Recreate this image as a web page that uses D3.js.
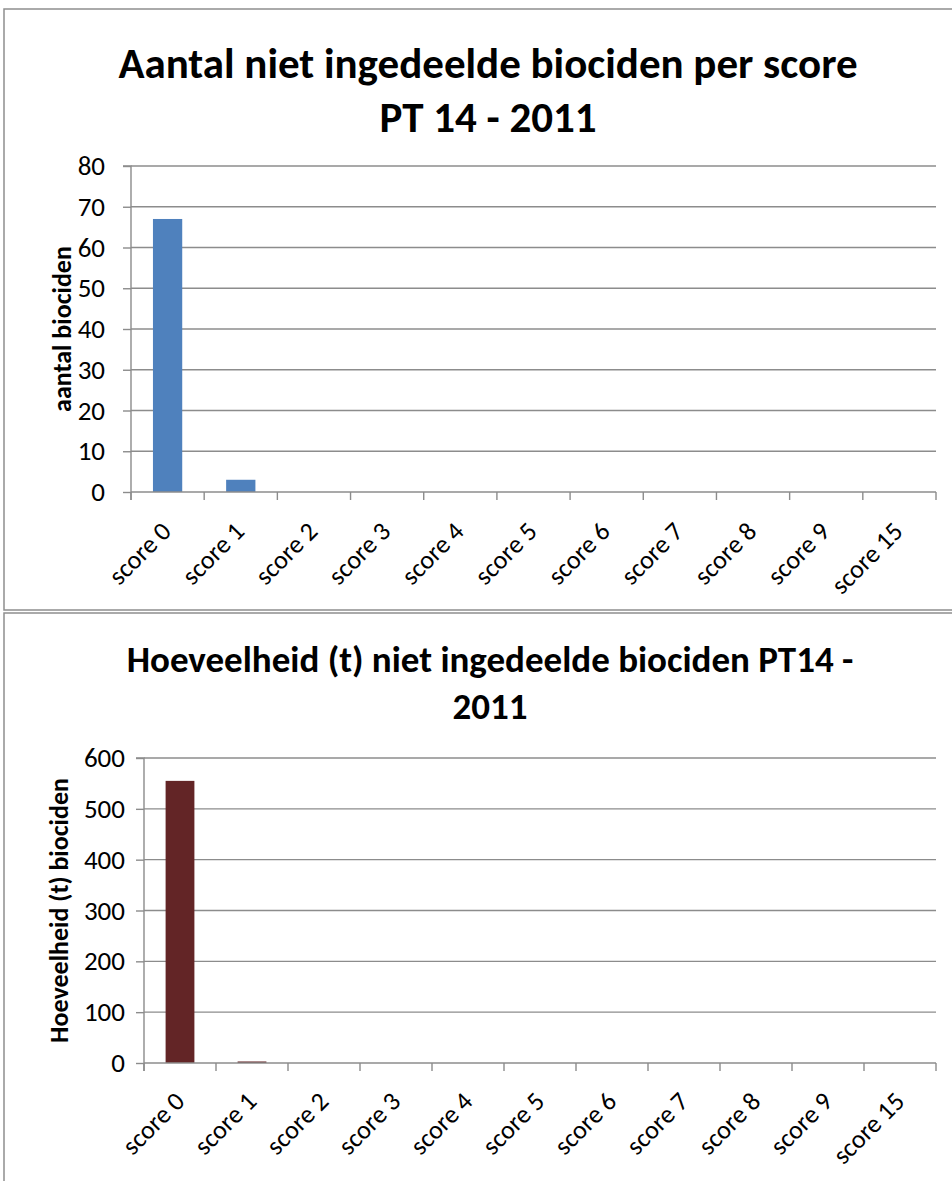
<!DOCTYPE html>
<html>
<head>
<meta charset="utf-8">
<script src="https://cdnjs.cloudflare.com/ajax/libs/d3/7.8.5/d3.min.js"></script>
<style>
  html, body { margin: 0; padding: 0; background: #ffffff; }
  svg { display: block; }
  text { font-family: "Carlito", "Liberation Sans Narrow", "DejaVu Sans Condensed", "Open Sans", sans-serif; fill: #000; }
</style>
</head>
<body>
<svg id="chart" width="952" height="1181"></svg>
<script>
// ---- data ----
const categories = ["score 0", "score 1", "score 2", "score 3", "score 4", "score 5", "score 6", "score 7", "score 8", "score 9", "score 15"];
const countValues = [67, 3, 0, 0, 0, 0, 0, 0, 0, 0, 0];
const tonValues = [555, 3, 0, 0, 0, 0, 0, 0, 0, 0, 0];
const countTicks = [0, 10, 20, 30, 40, 50, 60, 70, 80];
const tonTicks = [0, 100, 200, 300, 400, 500, 600];
const countTitle = ["Aantal niet ingedeelde biociden per score", "PT 14 - 2011"];
const tonTitle = ["Hoeveelheid (t) niet ingedeelde biociden PT14 -", "2011"];
const countAxisTitle = "aantal biociden";
const tonAxisTitle = "Hoeveelheid (t) biociden";

const svg = d3.select("#chart");
const GRID = "#8c8c8c";

function drawChart(cfg) {
  const g = svg.append("g");
  // frame
  g.append("path")
    .attr("d", `M${cfg.frame.x1},${cfg.frame.y0} H${cfg.frame.x0} V${cfg.frame.y1}` + (cfg.frame.closeBottom ? ` H${cfg.frame.x1}` : ""))
    .attr("fill", "none").attr("stroke", "#8f8f8f").attr("stroke-width", 1.5);

  // title
  cfg.title.forEach((t, i) => {
    g.append("text").attr("x", cfg.titleX).attr("y", cfg.titleY[i])
      .attr("text-anchor", "middle").attr("font-weight", "bold")
      .attr("font-size", cfg.titleSize).text(t);
  });

  const x = d3.scaleBand().domain(categories)
    .range([cfg.plot.x0, cfg.plot.x1]).paddingInner(0.6).paddingOuter(0.3);
  const y = d3.scaleLinear().domain([0, d3.max(cfg.ticks)]).range([cfg.plot.y1, cfg.plot.y0]);

  // gridlines
  g.append("g").selectAll("line").data(cfg.ticks.filter(d => d !== 0)).join("line")
    .attr("x1", cfg.plot.x0).attr("x2", cfg.plot.x1)
    .attr("y1", d => y(d)).attr("y2", d => y(d))
    .attr("stroke", GRID).attr("stroke-width", 1.4);

  // y axis
  const yAxis = d3.axisLeft(y).tickValues(cfg.ticks).tickSize(8).tickPadding(cfg.yLabelPad).tickFormat(d3.format("d"));
  const ya = g.append("g").attr("transform", `translate(${cfg.plot.x0},0)`).call(yAxis);
  ya.attr("font-family", null).attr("font-size", null);
  ya.select(".domain").attr("d", `M-8,${cfg.plot.y0}H0V${cfg.plot.y1 + 8}`).attr("stroke", GRID).attr("stroke-width", 1.4).attr("fill", "none");
  ya.selectAll(".tick line").attr("stroke", GRID).attr("stroke-width", 1.4);
  ya.selectAll(".tick text").attr("font-size", 27).attr("fill", "#000");

  // bars
  g.append("g").selectAll("rect").data(cfg.values.map((v, i) => ({ c: categories[i], v }))).join("rect")
    .attr("x", d => x(d.c)).attr("width", x.bandwidth())
    .attr("y", d => y(d.v)).attr("height", d => cfg.plot.y1 - y(d.v))
    .attr("fill", cfg.color);

  // x axis line and boundary ticks
  g.append("line").attr("x1", cfg.plot.x0).attr("x2", cfg.plot.x1)
    .attr("y1", cfg.plot.y1).attr("y2", cfg.plot.y1)
    .attr("stroke", GRID).attr("stroke-width", 1.4);
  const step = x.step();
  g.append("g").selectAll("line").data(d3.range(categories.length + 1)).join("line")
    .attr("x1", i => cfg.plot.x0 + i * step).attr("x2", i => cfg.plot.x0 + i * step)
    .attr("y1", cfg.plot.y1).attr("y2", cfg.plot.y1 + 8)
    .attr("stroke", GRID).attr("stroke-width", 1.4);

  // x labels
  g.append("g").selectAll("text").data(categories).join("text")
    .attr("transform", d => `translate(${x(d) + x.bandwidth() / 2 + cfg.xLabelDx},${cfg.plot.y1 + cfg.xLabelDy}) rotate(-45)`)
    .attr("text-anchor", "end").attr("font-size", 26).text(d => d);

  // y axis title
  g.append("text")
    .attr("transform", `translate(${cfg.axisTitleX},${(cfg.plot.y0 + cfg.plot.y1) / 2}) rotate(-90)`)
    .attr("text-anchor", "middle").attr("font-weight", "bold").attr("font-size", cfg.axisTitleSize)
    .text(cfg.axisTitle);
}

drawChart({
  frame: { x0: 4, x1: 960, y0: 9, y1: 610, closeBottom: true },
  title: countTitle, titleX: 488, titleY: [78, 132], titleSize: 43,
  plot: { x0: 131, x1: 936, y0: 166, y1: 492 },
  ticks: countTicks, values: countValues, color: "#4f81bd",
  yLabelPad: 18, xLabelDx: 5, xLabelDy: 41,
  axisTitle: countAxisTitle, axisTitleX: 71, axisTitleSize: 26
});

drawChart({
  frame: { x0: 4, x1: 960, y0: 613, y1: 1190, closeBottom: false },
  title: tonTitle, titleX: 490, titleY: [672, 719], titleSize: 37,
  plot: { x0: 144, x1: 936, y0: 758, y1: 1063 },
  ticks: tonTicks, values: tonValues, color: "#632526",
  yLabelPad: 11, xLabelDx: 6, xLabelDy: 40,
  axisTitle: tonAxisTitle, axisTitleX: 68, axisTitleSize: 26
});
</script>
</body>
</html>
